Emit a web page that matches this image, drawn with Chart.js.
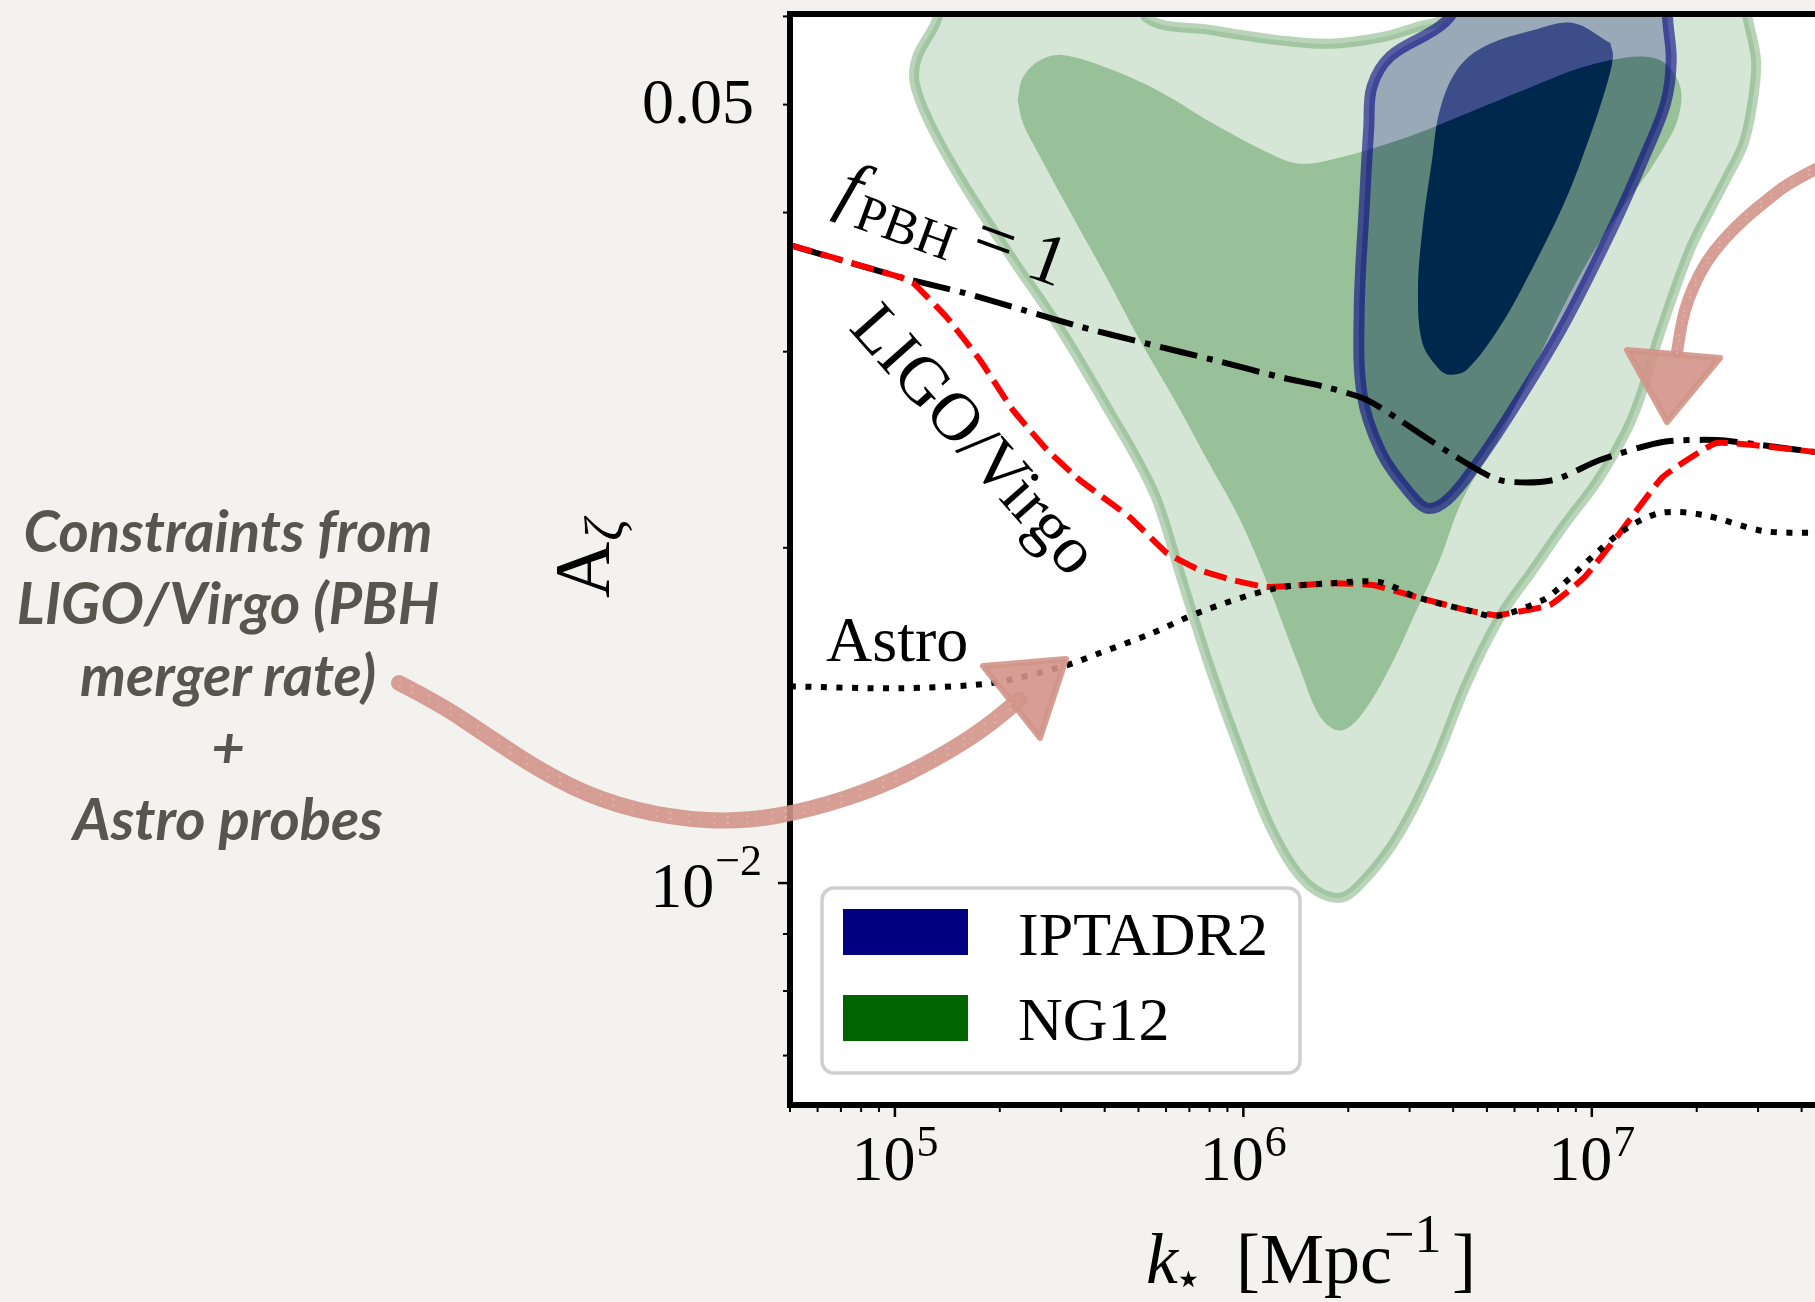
<!DOCTYPE html>
<html>
<head>
<meta charset="utf-8">
<title>PTA posteriors and PBH bounds on the curvature amplitude</title>
<script src="https://cdn.jsdelivr.net/npm/chart.js@4.4.1/dist/chart.umd.min.js"></script>
<style>
  html, body { margin: 0; padding: 0; width: 1815px; height: 1302px; overflow: hidden; background: #f3f2ee; }
  #stage { position: relative; width: 1815px; height: 1302px; }
  #plot { position: absolute; left: 0; top: 0; }
  #note {
    position: absolute; left: 0; top: 494px; width: 456px; text-align: center;
    font-family: Lato, "Open Sans", sans-serif; font-style: italic; font-weight: 700;
    font-size: 58px; line-height: 72px; color: #57554d; white-space: nowrap;
  }
</style>
</head>
<body>
<div id="stage">
  <canvas id="plot" width="1815" height="1302"></canvas>
  <div id="note">Constraints from<br>LIGO/Virgo (PBH<br>merger rate)<br>+<br>Astro probes</div>
</div>
<script>
// ---- axis ranges: k_* [Mpc^-1] (log) and A_zeta (log) ----
const kRange = [5e4, 4.37e7];
const aRange = [0.00632, 0.0603];

// ---- bounds on A_zeta as a function of k_* ----
const ligoK  = [5.0e4, 1.034e5, 1.126e5, 1.41e5, 1.753e5, 2.18e5, 2.731e5, 3.395e5, 4.724e5, 6.033e5, 7.504e5, 9.33e5, 1.168e6, 1.806e6, 2.353e6, 3.15e6, 4.38e6, 5.338e6, 7.577e6, 9.548e6, 1.203e7, 1.598e7, 2.284e7, 4.37e7];
const ligoA  = [0.0374, 0.0350, 0.0346, 0.0322, 0.0295, 0.0266, 0.0245, 0.0230, 0.0213, 0.01978, 0.0191, 0.01871, 0.01844, 0.01859, 0.01852, 0.01806, 0.01758, 0.01740, 0.01777, 0.01883, 0.02062, 0.02315, 0.02484, 0.02438];

const fpbhK  = [5.0e4, 1.034e5, 1.567e5, 2.33e5, 3.395e5, 5.29e5, 8.18e5, 1.273e6, 1.771e6, 2.262e6, 2.812e6, 3.913e6, 5.445e6, 7.728e6, 1.054e7, 1.598e7, 2.284e7, 3.034e7, 4.37e7];
const fpbhA  = [0.0374, 0.0350, 0.0339, 0.0327, 0.0316, 0.0305, 0.0295, 0.02847, 0.02783, 0.02715, 0.02604, 0.02433, 0.0230, 0.0230, 0.02398, 0.02489, 0.02499, 0.02474, 0.02438];

const astroK = [5.0e4, 1.027e5, 1.886e5, 3.053e5, 3.874e5, 5.392e5, 7.504e5, 1.215e6, 1.806e6, 2.464e6, 3.146e6, 4.378e6, 5.338e6, 7.234e6, 8.04e6, 1.203e7, 1.567e7, 2.096e7, 3.095e7, 4.37e7];
const astroA = [0.01502, 0.01496, 0.01512, 0.01566, 0.01609, 0.01673, 0.01751, 0.01837, 0.01859, 0.01863, 0.01806, 0.01758, 0.01737, 0.01795, 0.0184, 0.02062, 0.02149, 0.0214, 0.02071, 0.02062];

// ---- posterior contours, closed loops of [k_*, A_zeta] ----
const ng12Outer = [[1.39e5,0.0654],[5.05e5,0.0654],[5.29e5,0.0598],[8.18e5,0.0583],[1.27e6,0.0571],[1.77e6,0.0567],[2.51e6,0.0575],[3.15e6,0.0587],[3.74e6,0.0598],[4.18e6,0.0654],[2.66e7,0.0654],[2.80e7,0.0598],[2.96e7,0.0548],[2.90e7,0.0505],[2.73e7,0.0462],[2.46e7,0.0432],[2.18e7,0.0402],[1.91e7,0.0370],[1.57e7,0.0312],[1.31e7,0.0262],[1.05e7,0.0231],[8.37e6,0.0210],[6.77e6,0.0191],[5.45e6,0.01733],[4.38e6,0.01512],[3.50e6,0.01271],[2.81e6,0.01109],[2.26e6,0.01012],[1.89e6,0.00970],[1.52e6,0.01000],[1.22e6,0.01109],[9.77e5,0.01316],[8.01e5,0.01563],[6.71e5,0.01859],[5.65e5,0.02208],[4.88e5,0.02423],[4.22e5,0.0262],[3.03e5,0.0312],[2.18e5,0.0363],[1.57e5,0.0425],[1.26e5,0.0481],[1.14e5,0.0523],[1.16e5,0.0552],[1.32e5,0.0596],[1.39e5,0.0654]];
const ng12Inner = [[2.25e5,0.0505],[2.33e5,0.0529],[2.61e5,0.0548],[3.03e5,0.0554],[4.22e5,0.0537],[5.87e5,0.0512],[8.18e5,0.0481],[1.14e6,0.0455],[1.42e6,0.0443],[1.77e6,0.0446],[2.81e6,0.0465],[4.38e6,0.0491],[6.77e6,0.0519],[9.42e6,0.0540],[1.31e7,0.0552],[1.57e7,0.0548],[1.75e7,0.0529],[1.81e7,0.0508],[1.75e7,0.0481],[1.64e7,0.0462],[1.47e7,0.0437],[1.29e7,0.0413],[1.05e7,0.0376],[8.48e6,0.0334],[6.77e6,0.0289],[5.45e6,0.0252],[4.26e6,0.0221],[3.66e6,0.0195],[3.15e6,0.0176],[2.63e6,0.0156],[2.16e6,0.0141],[1.89e6,0.0137],[1.66e6,0.0141],[1.45e6,0.0156],[1.17e6,0.0186],[9.77e5,0.0212],[7.86e5,0.0240],[6.32e5,0.0272],[5.05e5,0.0307],[4.00e5,0.0352],[3.12e5,0.0405],[2.61e5,0.0449],[2.33e5,0.0481],[2.25e5,0.0505]];
const iptaOuter = [[4.47e6,0.0647],[1.65e7,0.0647],[1.65e7,0.0598],[1.69e7,0.0548],[1.63e7,0.0502],[1.43e7,0.0452],[1.15e7,0.0388],[8.26e6,0.0316],[5.93e6,0.0266],[4.59e6,0.0236],[3.86e6,0.0221],[3.38e6,0.0217],[3.00e6,0.0224],[2.48e6,0.0244],[2.19e6,0.0275],[2.15e6,0.0327],[2.22e6,0.0402],[2.29e6,0.0477],[2.34e6,0.0519],[2.65e6,0.0553],[3.79e6,0.0593],[4.47e6,0.0647]];
const iptaInner = [[1.13e7,0.0568],[8.82e6,0.0592],[6.77e6,0.0583],[4.87e6,0.0563],[4.10e6,0.0537],[3.66e6,0.0494],[3.48e6,0.0446],[3.27e6,0.0388],[3.17e6,0.0339],[3.27e6,0.0305],[3.66e6,0.0289],[3.91e6,0.0286],[4.38e6,0.0289],[5.45e6,0.0316],[6.77e6,0.0357],[8.48e6,0.0413],[9.87e6,0.0468],[1.10e7,0.0519],[1.15e7,0.0552],[1.13e7,0.0568]];

// ---- tick labels ----
const kTickValues = [1e5, 1e6, 1e7];
const kTickExps   = ['5', '6', '7'];
const aTickLabels = [[0.05, '0.05', ''], [0.01, '10', '\u22122']];
const legendNames = ['IPTADR2', 'NG12'];

// ---- helpers ----
const toPts = arr => arr.map(([k, a]) => ({x: k, y: a}));
const zip = (ks, as) => ks.map((k, i) => ({x: k, y: as[i]}));
// outer loop followed by the reversed inner loop: a band with a hole (nonzero winding)
function band(outer, inner) {
  const o = toPts(outer);
  const r = toPts(inner).reverse();
  return [...o, {...o[0]}, {...r[0]}, ...r, {...r[r.length - 1]}, {...o[0]}];
}

const SERIF = '"Liberation Serif", "Times New Roman", serif';
const font = (px, style = '') => `${style} ${px}px ${SERIF}`.trim();

function runs(ctx, list, x, y, opts = {}) {
  const {align = 'left', angle = 0} = opts;
  ctx.save();
  ctx.translate(x, y);
  if (angle) ctx.rotate(angle);
  ctx.textAlign = 'left';
  ctx.textBaseline = 'alphabetic';
  let width = 0;
  for (const r of list) { ctx.font = r.font; width += (r.gap || 0) + ctx.measureText(r.text).width; }
  let cx = align === 'center' ? -width / 2 : align === 'right' ? -width : 0;
  for (const r of list) {
    ctx.font = r.font;
    cx += r.gap || 0;
    ctx.fillText(r.text, cx, r.dy || 0);
    cx += ctx.measureText(r.text).width;
  }
  ctx.restore();
}

function roundRect(ctx, x, y, w, h, r) {
  ctx.beginPath();
  ctx.moveTo(x + r, y);
  ctx.arcTo(x + w, y, x + w, y + h, r);
  ctx.arcTo(x + w, y + h, x, y + h, r);
  ctx.arcTo(x, y + h, x, y, r);
  ctx.arcTo(x, y, x + w, y, r);
  ctx.closePath();
}

function smoothPath(ctx, path, off = 0) {
  ctx.beginPath();
  ctx.moveTo(path[0][0], path[0][1] + off);
  for (let i = 1; i < path.length - 1; i++) {
    const mx = (path[i][0] + path[i + 1][0]) / 2, my = (path[i][1] + path[i + 1][1]) / 2 + off;
    ctx.quadraticCurveTo(path[i][0], path[i][1] + off, mx, my);
  }
  ctx.lineTo(path[path.length - 1][0], path[path.length - 1][1] + off);
}

function chalkArrow(ctx, path, head, width) {
  ctx.save();
  const chalk = 'rgba(210,148,136,0.9)';
  ctx.strokeStyle = chalk;
  ctx.fillStyle = chalk;
  ctx.lineWidth = width;
  ctx.lineCap = 'round';
  ctx.lineJoin = 'round';
  smoothPath(ctx, path);
  ctx.stroke();
  ctx.beginPath();
  ctx.moveTo(head[0][0], head[0][1]);
  ctx.lineTo(head[1][0], head[1][1]);
  ctx.lineTo(head[2][0], head[2][1]);
  ctx.closePath();
  ctx.lineWidth = 6;
  ctx.fill();
  ctx.stroke();
  // faint worn specks in the chalk
  ctx.strokeStyle = 'rgba(240,214,205,0.35)';
  ctx.lineWidth = 2;
  ctx.lineCap = 'butt';
  ctx.setLineDash([2, 11, 3, 17, 2, 8, 1, 14]);
  for (const off of [-width * 0.22, width * 0.18]) {
    smoothPath(ctx, path, off);
    ctx.stroke();
  }
  ctx.restore();
}

// ---- frame, ticks, labels and annotations ----
const decor = {
  id: 'decor',
  beforeDatasetsDraw(chart) {
    const {ctx, chartArea: a} = chart;
    ctx.save();
    ctx.fillStyle = '#ffffff';
    ctx.fillRect(a.left, a.top, a.right - a.left, a.bottom - a.top);
    ctx.restore();
  },
  afterDatasetsDraw(chart) {
    const {ctx, chartArea: a, scales: {x, y}} = chart;
    ctx.save();
    ctx.fillStyle = '#000';
    ctx.strokeStyle = '#000';

    // curve labels
    runs(ctx, [
      {text: 'f', font: font(72, 'italic')},
      {text: 'PBH', font: font(52), dy: 13, gap: 4},
      {text: ' = 1', font: font(72)}
    ], 834, 206, {angle: 20 * Math.PI / 180});
    ctx.save();
    ctx.translate(972, 442);
    ctx.rotate(48.5 * Math.PI / 180);
    ctx.font = font(68);
    ctx.textAlign = 'center';
    ctx.textBaseline = 'middle';
    ctx.fillText('LIGO/Virgo', 0, 0);
    ctx.restore();
    runs(ctx, [{text: 'Astro', font: font(64)}], 826, 661);

    // legend
    roundRect(ctx, 822, 888, 478, 185, 12);
    ctx.fillStyle = 'rgba(255,255,255,0.85)';
    ctx.fill();
    ctx.lineWidth = 3.5;
    ctx.strokeStyle = '#cfcfcf';
    ctx.stroke();
    const legendColors = ['#000080', '#006400'];
    legendNames.forEach((name, i) => {
      ctx.fillStyle = legendColors[i];
      ctx.fillRect(843, 909 + i * 86, 125, 46);
      ctx.fillStyle = '#000';
      runs(ctx, [{text: name, font: font(62)}], 1018, 955 + i * 85);
    });

    // frame (left, top, bottom)
    ctx.strokeStyle = '#000';
    ctx.lineWidth = 6;
    ctx.lineJoin = 'miter';
    ctx.beginPath();
    ctx.moveTo(a.right + 10, a.top);
    ctx.lineTo(a.left, a.top);
    ctx.lineTo(a.left, a.bottom);
    ctx.lineTo(a.right + 10, a.bottom);
    ctx.stroke();

    // ticks
    const line = (x1, y1, x2, y2, w) => { ctx.lineWidth = w; ctx.beginPath(); ctx.moveTo(x1, y1); ctx.lineTo(x2, y2); ctx.stroke(); };
    for (let d = 4; d <= 7; d++) {
      for (let m = 1; m <= 9; m++) {
        const v = m * Math.pow(10, d);
        if (v < kRange[0] * 0.999 || v > kRange[1]) continue;
        const px = x.getPixelForValue(v);
        line(px, a.bottom, px, a.bottom + (m === 1 ? 12 : 7), m === 1 ? 2.5 : 2);
      }
    }
    for (let d = -3; d <= -1; d++) {
      for (let m = 1; m <= 9; m++) {
        const v = m * Math.pow(10, d);
        if (v < aRange[0] || v > aRange[1]) continue;
        const py = y.getPixelForValue(v);
        line(a.left, py, a.left - (m === 1 ? 12 : 7), py, m === 1 ? 2.5 : 2);
      }
    }

    // tick labels
    ctx.fillStyle = '#000';
    kTickValues.forEach((v, i) => {
      runs(ctx, [
        {text: '10', font: font(64)},
        {text: kTickExps[i], font: font(44), dy: -24, gap: 1}
      ], x.getPixelForValue(v), 1180, {align: 'center'});
    });
    aTickLabels.forEach(([v, base, exp]) => {
      const py = y.getPixelForValue(v);
      if (exp) {
        runs(ctx, [{text: base, font: font(64)}, {text: exp, font: font(44), dy: -32, gap: 1}], a.left - 28, py + 24, {align: 'right'});
      } else {
        runs(ctx, [{text: base, font: font(64)}], a.left - 36, py + 18, {align: 'right'});
      }
    });
    ctx.restore();
  },
  afterDraw(chart) {
    const {ctx} = chart;
    ctx.save();
    ctx.fillStyle = '#000';
    // x-axis title: k_* [Mpc^-1]
    runs(ctx, [{text: 'k', font: font(72, 'italic')}], 1146, 1283);
    runs(ctx, [{text: '\u22C6', font: '46px "DejaVu Sans", sans-serif'}], 1174, 1294);
    runs(ctx, [{text: '[Mpc', font: font(72)}], 1236, 1283);
    runs(ctx, [{text: '\u22121', font: font(54)}], 1384, 1252);
    runs(ctx, [{text: ']', font: font(72)}], 1452, 1283);
    // y-axis title: A_zeta
    runs(ctx, [
      {text: 'A', font: font(78)},
      {text: '\u03B6', font: font(54, 'italic'), dy: 15, gap: 1}
    ], 608, 598, {angle: -Math.PI / 2});

    // hand-drawn pointers
    chalkArrow(ctx,
      [[399,683],[440,704],[486,735],[544,773],[602,801],[671,818],[741,822],[810,810],[880,787],[938,758],[984,729],[1019,700]],
      [[983,666],[1066,659],[1040,738]], 16);
    chalkArrow(ctx,
      [[1822,166],[1790,182],[1767,200],[1745,218],[1723,240],[1706,262],[1693,287],[1684,312],[1680,333],[1677,352]],
      [[1627,350],[1720,358],[1667,422]], 12);
    ctx.restore();
  }
};

// ---- datasets, listed bottom layer first ----
const base = {pointRadius: 0, pointHoverRadius: 0, clip: 0, tension: 0.35, borderCapStyle: 'butt', borderJoinStyle: 'round'};
const layers = [
  {...base, label: 'IPTADR2 95%', data: toPts(iptaOuter), fill: 'shape', backgroundColor: 'rgb(153,153,206)', borderColor: 'transparent', borderWidth: 0},
  {...base, label: 'IPTADR2 68%', data: toPts(iptaInner), fill: 'shape', backgroundColor: 'rgb(0,0,128)', borderColor: 'transparent', borderWidth: 0},
  {...base, label: 'NG12 95%', data: band(ng12Outer, ng12Inner), fill: 'shape', backgroundColor: 'rgba(153,193,153,0.4)', borderColor: 'transparent', borderWidth: 0},
  {...base, label: 'NG12 68%', data: toPts(ng12Inner), fill: 'shape', backgroundColor: 'rgba(0,100,0,0.4)', borderColor: 'transparent', borderWidth: 0},
  {...base, label: 'NG12 edge', data: toPts(ng12Outer), fill: false, borderColor: 'rgba(100,160,100,0.45)', borderWidth: 10},
  {...base, label: 'IPTADR2 edge', data: toPts(iptaOuter), fill: false, borderColor: 'rgba(10,10,130,0.62)', borderWidth: 11},
  {...base, label: 'f_PBH = 1', data: zip(fpbhK, fpbhA), fill: false, tension: 0.25, borderColor: '#000', borderWidth: 6, borderDash: [38, 10, 6, 10]},
  {...base, label: 'LIGO/Virgo', data: zip(ligoK, ligoA), fill: false, tension: 0.12, borderColor: '#ff0000', borderWidth: 6, borderDash: [23, 9]},
  {...base, label: 'Astro', data: zip(astroK, astroA), fill: false, tension: 0.3, borderColor: '#000', borderWidth: 6, borderDash: [6, 9.5]}
].map((d, i) => ({...d, order: -i}));

new Chart(document.getElementById('plot'), {
  type: 'line',
  data: {datasets: layers},
  options: {
    responsive: false,
    animation: false,
    devicePixelRatio: 1,
    events: [],
    layout: {padding: {left: 790, top: 14, right: 0, bottom: 197}},
    elements: {line: {capBezierPoints: false}},
    scales: {
      x: {type: 'logarithmic', min: kRange[0], max: kRange[1], display: false},
      y: {type: 'logarithmic', min: aRange[0], max: aRange[1], display: false}
    },
    plugins: {legend: {display: false}, tooltip: {enabled: false}}
  },
  plugins: [decor]
});
</script>
</body>
</html>
